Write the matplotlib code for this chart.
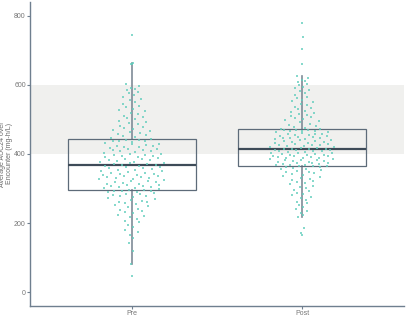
import numpy as np
import matplotlib
matplotlib.use("Agg")
import matplotlib.pyplot as plt

plt.rcParams["font.family"] = ["Liberation Sans", "DejaVu Sans"]

# data
groups = ["Pre", "Post"]

pre_auc = [
    46, 82, 118, 142, 158, 165, 174, 181, 189, 195,
    203, 207, 212, 216, 219, 224, 228, 231, 235, 238,
    242, 245, 248, 251, 254, 257, 260, 262, 265, 267,
    270, 272, 274, 277, 279, 281, 283, 285, 287, 289,
    290, 292, 293, 294, 295,
    297, 298, 300, 302, 303, 305, 306, 308, 310, 311,
    313, 314, 316, 318, 319, 321, 322, 324, 326, 327,
    329, 330, 332, 334, 335, 337, 338, 340, 342, 343,
    345, 346, 348, 350, 351, 353, 354, 356, 358, 359,
    361, 362, 364, 365, 367,
    368, 370, 371, 373, 375, 376, 378, 380, 381, 383,
    385, 386, 388, 390, 391, 393, 395, 396, 398, 400,
    401, 403, 405, 407, 408, 410, 412, 413, 415, 417,
    419, 420, 422, 424, 426, 428, 430, 432, 434, 436,
    437, 438, 440, 441, 443,
    446, 449, 452, 455, 458, 461, 464, 467, 470, 473,
    476, 479, 482, 486, 489, 492, 496, 500, 503, 507,
    511, 515, 519, 523, 527, 531, 536, 540, 545, 550,
    555, 560, 565, 570, 575, 580, 584, 588, 592, 596,
    602, 660, 661, 664, 745,
]

post_auc = [
    165, 171, 186,
    217, 222, 228, 234, 240, 246, 252, 257, 262, 267,
    272, 276, 280, 284, 288, 292, 296, 300, 304, 308,
    312, 315, 318, 321, 324, 327, 330, 333, 336, 339,
    342, 345, 347, 349, 351, 353, 355, 357, 359, 361,
    362, 364,
    365, 366, 367, 368, 369, 370, 372, 373, 374, 375,
    376, 377, 379, 380, 381, 382, 383, 384, 386, 387,
    388, 389, 390, 391, 393, 394, 395, 396, 397, 398,
    400, 401, 402, 403, 404, 405, 406, 407, 408, 409,
    410, 411, 412, 413, 413,
    414, 415, 417, 418, 419, 421, 422, 423, 425, 426,
    427, 429, 430, 431, 433, 434, 435, 437, 438, 439,
    441, 442, 443, 445, 446, 447, 449, 450, 451, 453,
    454, 455, 457, 458, 459, 461, 462, 463, 465, 466,
    467, 468, 469, 470, 471,
    473, 476, 479, 482, 485, 488, 491, 494, 497, 500,
    503, 506, 509, 512, 515, 518, 522, 525, 529, 533,
    537, 541, 545, 549, 553, 557, 561, 566, 571, 576,
    581, 586, 591, 595, 599, 603, 607, 611, 615, 620,
    626, 661, 704, 739, 780,
]

target_low, target_high = 400, 600

spine_col = "#6f7f8f"
box_col = "#5d6b79"
pt_col = "#5fcdbc"


def density_offsets(vals, half_width=0.2, bw=35.0):
    # quasirandom spread scaled by a gaussian kde of the values
    v = np.asarray(vals, dtype=float)
    dens = np.exp(-0.5 * ((v[:, None] - v[None, :]) / bw) ** 2).sum(axis=1)
    dens = dens / dens.max()
    order = np.argsort(v)
    n = len(v)
    seq = np.empty(n)
    for i in range(n):
        k, f, r = i + 1, 0.5, 0.0
        while k:
            r += f * (k & 1)
            k >>= 1
            f *= 0.5
        seq[i] = r * 2 - 1
    off = np.empty(n)
    off[order] = seq
    return off * dens * half_width


fig = plt.figure(figsize=(4.08, 3.19), dpi=100)
ax = fig.add_axes([0.0735, 0.041, 0.917, 0.953])

ax.axhspan(target_low, target_high, color="#f0f0ee", zorder=0, lw=0)

data = [pre_auc, post_auc]
pos = [1, 2]
bp = ax.boxplot(data, positions=pos, widths=0.75, showfliers=False,
                patch_artist=True, whis=1.5, showcaps=False)
for b in bp["boxes"]:
    b.set(facecolor="none", edgecolor=box_col, linewidth=0.9, zorder=3)
for w in bp["whiskers"]:
    w.set(color="#7f8b97", linewidth=1.2, zorder=2)
for m in bp["medians"]:
    m.set(color="#3e4b58", linewidth=1.6, zorder=4)

for p, vals in zip(pos, data):
    xo = density_offsets(vals)
    ax.scatter(p + xo, vals, s=1.2, color=pt_col, marker="s",
               linewidths=0, alpha=0.75, zorder=5)

ax.set_xlim(0.4, 2.6)
ax.set_ylim(-40, 840)
ax.set_xticks(pos)
ax.set_xticklabels(groups)
ax.set_yticks([0, 200, 400, 600, 800])
ax.set_ylabel("Average AUC24 over\nEncounter (mg-h/L)", fontsize=5,
              color="#6a6a6a", linespacing=1.0)
ax.yaxis.set_label_coords(-0.046, 0.5)

for s in ["top", "right"]:
    ax.spines[s].set_visible(False)
for s in ["left", "bottom"]:
    ax.spines[s].set_color(spine_col)
    ax.spines[s].set_linewidth(1.0)
ax.tick_params(colors=spine_col, labelcolor="#777777", labelsize=5,
               length=2, width=0.8, pad=1)

fig.savefig("out.png", dpi=100)
